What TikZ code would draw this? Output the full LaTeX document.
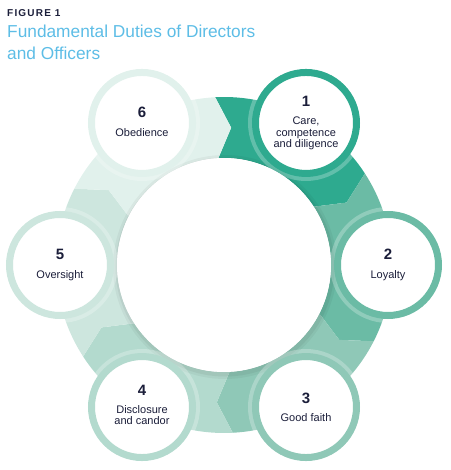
\documentclass[tikz,border=0pt]{standalone}
\usepackage{fontspec}
\setmainfont{Liberation Sans}
\usetikzlibrary{calc}
\definecolor{cA}{HTML}{2EAA8F}
\definecolor{cB}{HTML}{6BBBA5}
\definecolor{cC}{HTML}{8FC8B7}
\definecolor{cD}{HTML}{B3DACE}
\definecolor{cE}{HTML}{CDE6DE}
\definecolor{cF}{HTML}{E1F1EC}
\definecolor{navy}{HTML}{1B1E3A}
\definecolor{titleblue}{HTML}{5DBDE6}
\begin{document}
\begin{tikzpicture}[x=1pt,y=1pt,
  numtext/.style={font=\bfseries\fontsize{15}{15}\selectfont, text=navy, inner sep=0, anchor=base},
  labtext/.style={font=\fontsize{11}{11.5}\selectfont, text=navy, inner sep=0, anchor=north, align=center},
  duty/.style={circle, fill=white, draw=#1, line width=7pt, minimum size=101pt, inner sep=0},
  halo/.style={circle, fill=white, fill opacity=0.25, minimum size=116pt, inner sep=0, draw=none}]
\useasboundingbox (-224,-205) rectangle (226,265);
\def\Ro{168}\def\Ri{107}\def\Rm{137.5}
% ring segments (chevrons pointing clockwise)
\foreach \a/\c in {90/cA,30/cB,-30/cC,-90/cD,-150/cE,150/cF}{
  \fill[\c] ({\a+3}:\Ro) arc[start angle={\a+3}, end angle={\a-57}, radius=\Ro]
    -- ({\a-63}:\Rm) -- ({\a-57}:\Ri)
    arc[start angle={\a-57}, end angle={\a+3}, radius=\Ri]
    -- ({\a-3}:\Rm) -- cycle;
}
% inner circle with soft shadow
\fill[black, opacity=0.04] (1,-2) circle (112);
\fill[black, opacity=0.05] (1,-2) circle (109.5);
\fill[white] (0,0) circle (\Ri);
% title
\node[anchor=base west, inner sep=0, text=navy,
  font=\fontsize{10}{12}\selectfont\bfseries\addfontfeatures{LetterSpace=12}] (fig) at (-217,248) {FIGURE 1};
\node[anchor=north west, inner sep=0, text=titleblue, align=left,
  font=\fontsize{17.3}{22}\selectfont] (title) at (-217,240) {Fundamental Duties of Directors\\and Officers};
% duty circles
\node[halo] (h1) at (60:164) {};
\node[halo] (h2) at (0:164) {};
\node[halo] (h3) at (-60:164) {};
\node[halo] (h4) at (-120:164) {};
\node[halo] (h5) at (180:164) {};
\node[halo] (h6) at (120:164) {};
\node[duty=cA] (c1) at (60:164) {};
\node[duty=cB] (c2) at (0:164) {};
\node[duty=cC] (c3) at (-60:164) {};
\node[duty=cD] (c4) at (-120:164) {};
\node[duty=cE] (c5) at (180:164) {};
\node[duty=cF] (c6) at (120:164) {};
% texts
\node[numtext] (n1) at ($(c1)+(0,16)$) {1};
\node[labtext] (l1) at ($(n1.base)+(0,-10)$) {Care,\\competence\\and diligence};
\node[numtext] (n2) at ($(c2)+(0,5)$) {2};
\node[labtext] (l2) at ($(n2.base)+(0,-10)$) {Loyalty};
\node[numtext] (n3) at ($(c3)+(0,4)$) {3};
\node[labtext] (l3) at ($(n3.base)+(0,-10)$) {Good faith};
\node[numtext] (n4) at ($(c4)+(0,12)$) {4};
\node[labtext] (l4) at ($(n4.base)+(0,-10)$) {Disclosure\\and candor};
\node[numtext] (n5) at ($(c5)+(0,5)$) {5};
\node[labtext] (l5) at ($(n5.base)+(0,-10)$) {Oversight};
\node[numtext] (n6) at ($(c6)+(0,5)$) {6};
\node[labtext] (l6) at ($(n6.base)+(0,-10)$) {Obedience};
\end{tikzpicture}
\end{document}
